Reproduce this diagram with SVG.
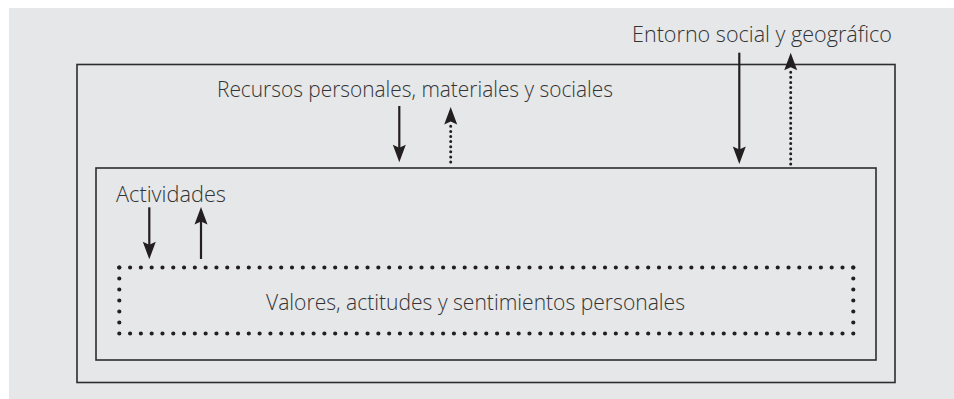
<svg xmlns="http://www.w3.org/2000/svg" width="954" height="399" viewBox="0 0 954 399">
  <style>
    .lbl { font-family: "Open Sans", "Liberation Sans", Arial, sans-serif; font-weight: 300; font-size: 21.5px; fill: #333335; }
    .box { fill: none; stroke: #2e2c2d; stroke-width: 1.6; }
    .solid { stroke: #231f20; stroke-width: 2.2; fill: none; }
    .dotline { stroke: #231f20; stroke-width: 3; stroke-linecap: round; stroke-dasharray: 0 5.1; fill: none; }
    .dotbox { stroke: #231f20; stroke-width: 4.2; stroke-linecap: round; fill: none; }
  </style>
  <defs>
    <marker id="ah" viewBox="-8 -7 19 14" refX="0" refY="0" markerWidth="19" markerHeight="14" markerUnits="userSpaceOnUse" orient="auto">
      <path d="M10,0 L-7.5,-6.5 L-4.5,0 L-7.5,6.5 Z" fill="#231f20"/>
    </marker>
  </defs>
  <rect x="0" y="0" width="954" height="399" fill="#ffffff"/>
  <rect x="9" y="8" width="945" height="391" fill="#e6e7e8"/>

  <g id="entorno">
    <rect class="box" x="77" y="64.5" width="818" height="318"/>
    <text class="lbl" x="632" y="42.3" textLength="260" lengthAdjust="spacingAndGlyphs">Entorno social y geográfico</text>
  </g>
  <g id="recursos">
    <rect class="box" x="96" y="168" width="780" height="192"/>
    <text class="lbl" x="217" y="96.7" textLength="396" lengthAdjust="spacingAndGlyphs">Recursos personales, materiales y sociales</text>
  </g>
  <g id="actividades">
    <text class="lbl" x="116" y="201.7" textLength="110" lengthAdjust="spacingAndGlyphs">Actividades</text>
  </g>
  <g id="valores">
    <line class="dotbox" x1="119.3" y1="267.5" x2="853.3" y2="267.5" stroke-dasharray="0 10.794"/>
    <line class="dotbox" x1="119.3" y1="333.5" x2="853.3" y2="333.5" stroke-dasharray="0 10.794"/>
    <line class="dotbox" x1="119.3" y1="267.5" x2="119.3" y2="333.5" stroke-dasharray="0 11"/>
    <line class="dotbox" x1="853.3" y1="267.5" x2="853.3" y2="333.5" stroke-dasharray="0 11"/>
    <text class="lbl" x="266" y="310" textLength="419" lengthAdjust="spacingAndGlyphs">Valores, actitudes y sentimientos personales</text>
  </g>

  <g id="connectors">
    <line class="solid" x1="739.3" y1="52.7" x2="739.3" y2="154" marker-end="url(#ah)"/>
    <line class="dotline" x1="790.7" y1="164" x2="790.7" y2="72"/>
    <line x1="790.7" y1="66" x2="790.7" y2="62.7" stroke="none" marker-end="url(#ah)"/>
    <line class="solid" x1="399.3" y1="106" x2="399.3" y2="152.3" marker-end="url(#ah)"/>
    <line class="dotline" x1="450.7" y1="162" x2="450.7" y2="125"/>
    <line x1="450.7" y1="120" x2="450.7" y2="117" stroke="none" marker-end="url(#ah)"/>
    <line class="solid" x1="149.3" y1="207.3" x2="149.3" y2="249.3" marker-end="url(#ah)"/>
    <line class="solid" x1="201" y1="259" x2="201" y2="217" marker-end="url(#ah)"/>
  </g>
</svg>
